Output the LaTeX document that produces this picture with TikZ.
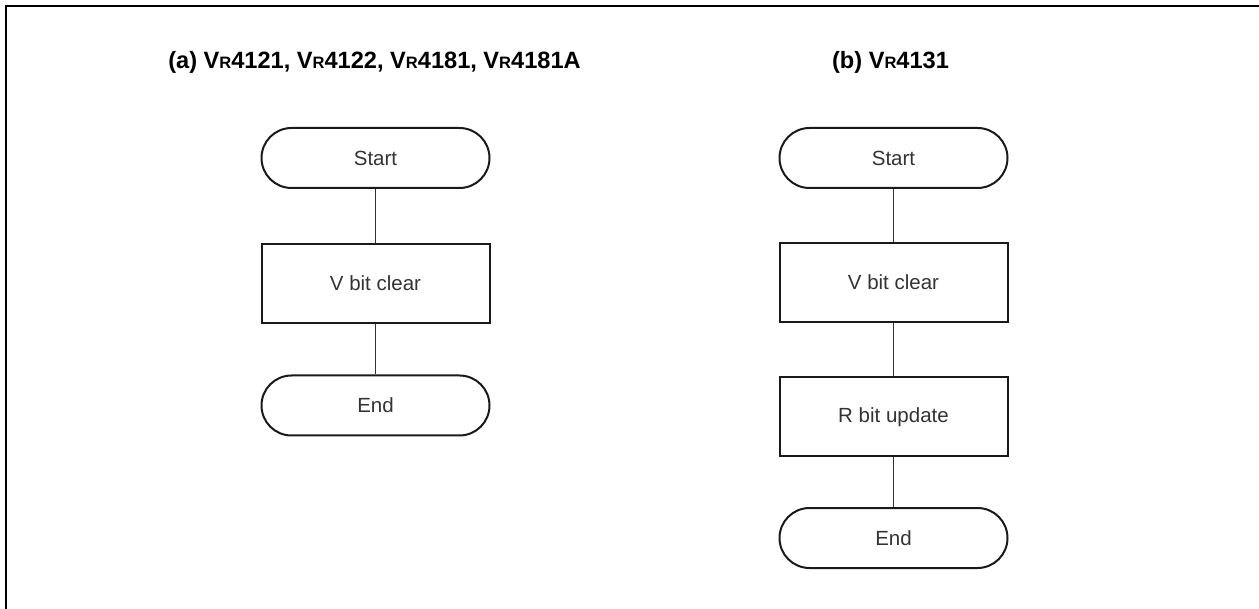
\documentclass[tikz,border=0pt]{standalone}
\usepackage{fontspec}
\setmainfont{Liberation Sans}
\definecolor{ink}{HTML}{1A1A1A}
\definecolor{txt}{HTML}{333333}
\newcommand{\vr}{V{\fontsize{16.5}{16.5}\selectfont R}}
\begin{document}
\begin{tikzpicture}[x=1pt,y=-1pt,
  term/.style={draw=ink,line width=2pt,rounded corners=30pt,minimum width=228pt,minimum height=60pt,inner sep=0pt,
    font=\fontsize{20.5}{24}\selectfont,text=txt},
  procbox/.style={draw=ink,line width=2pt,minimum width=228pt,minimum height=79pt,inner sep=0pt,
    font=\fontsize{20.5}{24}\selectfont,text=txt},
  link/.style={draw=txt,line width=1.2pt},
  ttl/.style={anchor=base,font=\bfseries\fontsize{23.6}{27}\selectfont,inner sep=0pt}]
\useasboundingbox (0,0) rectangle (1259,609);
\draw[line width=2pt] (6,609) -- (6,6) -- (1259,6);
\node[ttl] (ta) at (374.5,69) {(a) \vr4121, \vr4122, \vr4181, \vr4181A};
\node[ttl] (tb) at (890.5,69) {(b) \vr4131};
% left
\node[term] (sa) at (375.5,158) {Start};
\node[procbox] (va) at (375.5,283.5) {V bit clear};
\node[term] (ea) at (375.5,405.5) {End};
\draw[link] (sa) -- (va);
\draw[link] (va) -- (ea);
% right
\node[term] (sb) at (893.5,158) {Start};
\node[procbox] (vb) at (893.5,282.5) {V bit clear};
\node[procbox] (rb) at (893.5,417) {R bit update};
\node[term] (eb) at (893.5,538) {End};
\draw[link] (sb) -- (vb);
\draw[link] (vb) -- (rb);
\draw[link] (rb) -- (eb);
\end{tikzpicture}
\end{document}
